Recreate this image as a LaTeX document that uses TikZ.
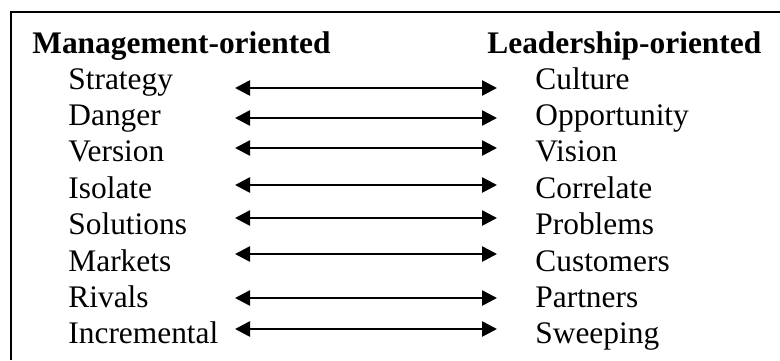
\documentclass[tikz,border=0pt]{standalone}
\usepackage{fontspec}
\setmainfont{Liberation Serif}
\usetikzlibrary{arrows.meta}
\newcommand{\colfont}{\fontsize{15.7}{18}\selectfont}
\tikzstyle{head} = [anchor=base west, inner sep=0pt, font=\colfont\bfseries]
\tikzstyle{term} = [anchor=base west, inner sep=0pt, font=\colfont]
\tikzstyle{pair} = [{Triangle[length=7.5pt,width=7.5pt]}-{Triangle[length=7.5pt,width=7.5pt]},
                    line width=1.3pt]

\begin{document}
\begin{tikzpicture}[x=0.5pt, y=-0.5pt]

% page and frame
\useasboundingbox (0,0) rectangle (780,360);
\draw[line width=1pt] (11,360) -- (11,12) -- (780,12);

% column heads
\node [head] (mgmt) at (32,53)  {Management-oriented};
\node [head] (lead) at (487,53) {Leadership-oriented};

% management terms
\node [term] (m1) at (68,89)  {Strategy};
\node [term] (m2) at (68,125) {Danger};
\node [term] (m3) at (68,161) {Version};
\node [term] (m4) at (68,198) {Isolate};
\node [term] (m5) at (68,234) {Solutions};
\node [term] (m6) at (68,271) {Markets};
\node [term] (m7) at (68,307) {Rivals};
\node [term] (m8) at (68,343) {Incremental};

% leadership terms
\node [term] (l1) at (535,89)  {Culture};
\node [term] (l2) at (535,125) {Opportunity};
\node [term] (l3) at (535,161) {Vision};
\node [term] (l4) at (535,198) {Correlate};
\node [term] (l5) at (535,234) {Problems};
\node [term] (l6) at (535,271) {Customers};
\node [term] (l7) at (535,307) {Partners};
\node [term] (l8) at (535,343) {Sweeping};

% arrow ends
\coordinate (a1) at (235,88);  \coordinate (b1) at (497,88);
\coordinate (a2) at (235,118); \coordinate (b2) at (497,118);
\coordinate (a3) at (235,148); \coordinate (b3) at (497,148);
\coordinate (a4) at (235,185); \coordinate (b4) at (497,185);
\coordinate (a5) at (235,218); \coordinate (b5) at (497,218);
\coordinate (a6) at (235,254); \coordinate (b6) at (497,254);
\coordinate (a7) at (235,298); \coordinate (b7) at (497,298);
\coordinate (a8) at (235,329); \coordinate (b8) at (497,329);

% add connections
\draw[pair] (a1) -- (b1);
\draw[pair] (a2) -- (b2);
\draw[pair] (a3) -- (b3);
\draw[pair] (a4) -- (b4);
\draw[pair] (a5) -- (b5);
\draw[pair] (a6) -- (b6);
\draw[pair] (a7) -- (b7);
\draw[pair] (a8) -- (b8);

\end{tikzpicture}
\end{document}
